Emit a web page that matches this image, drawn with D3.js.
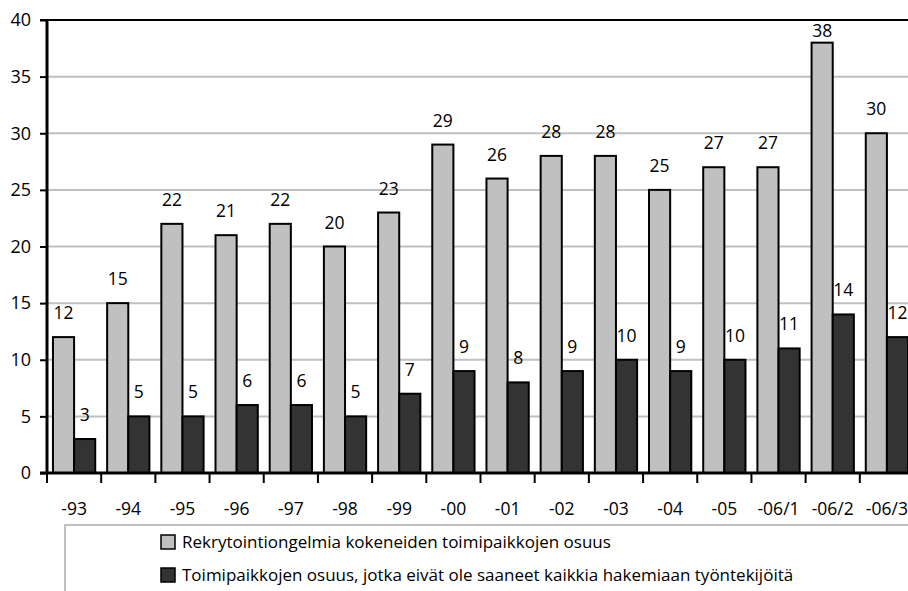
<!DOCTYPE html>
<html>
<head>
<meta charset="utf-8">
<script src="https://cdn.jsdelivr.net/npm/d3@7"></script>
<style>
  body { margin: 0; background: #fff; }
  svg { display: block; }
  text { font-family: "Open Sans", "DejaVu Sans", sans-serif; fill: #000; }
</style>
</head>
<body>
<svg id="chart" width="908" height="591"></svg>
<script>
// données
var years = ["-93", "-94", "-95", "-96", "-97", "-98", "-99", "-00", "-01", "-02", "-03", "-04", "-05", "-06/1", "-06/2", "-06/3"];
var rekry = [12, 15, 22, 21, 22, 20, 23, 29, 26, 28, 28, 25, 27, 27, 38, 30];
var eiSaaneet = [3, 5, 5, 6, 6, 5, 7, 9, 8, 9, 10, 9, 10, 11, 14, 12];
var yTicks = [0, 5, 10, 15, 20, 25, 30, 35, 40];
var seriesNames = ["Rekrytointiongelmia kokeneiden toimipaikkojen osuus",
                   "Toimipaikkojen osuus, jotka eivät ole saaneet kaikkia hakemiaan työntekijöitä"];
var colors = ["#c0c0c0", "#333333"];

var svg = d3.select("#chart");

// zone du graphique (dépasse un peu à droite, comme l'original)
var mLeft = 47, mRight = 914, mTop = 20, mBottom = 473;

var x = d3.scaleBand().domain(years).range([mLeft, mRight]).paddingInner(0.22).paddingOuter(0.11);
var y = d3.scaleLinear().domain([0, 40]).range([mBottom, mTop]);

// grille
svg.append("g").selectAll("line")
  .data(yTicks.filter(function(d) { return d > 0 && d < 40; }))
  .enter().append("line")
  .attr("x1", mLeft).attr("x2", 908)
  .attr("y1", function(d) { return y(d); })
  .attr("y2", function(d) { return y(d); })
  .style("stroke", "#c0c0c0").style("stroke-width", 2);

// barres
var bw = x.bandwidth() / 2;
var groups = svg.append("g").selectAll("g")
  .data(years).enter().append("g");

groups.append("rect")
  .attr("x", function(d) { return x(d); })
  .attr("y", function(d, i) { return y(rekry[i]); })
  .attr("width", bw)
  .attr("height", function(d, i) { return mBottom - y(rekry[i]); })
  .style("fill", colors[0]).style("stroke", "#000").style("stroke-width", 2);

groups.append("rect")
  .attr("x", function(d) { return x(d) + bw; })
  .attr("y", function(d, i) { return y(eiSaaneet[i]); })
  .attr("width", bw)
  .attr("height", function(d, i) { return mBottom - y(eiSaaneet[i]); })
  .style("fill", colors[1]).style("stroke", "#000").style("stroke-width", 2);

// étiquettes de valeurs (gardées dans la zone du graphique)
function labelY(v) { return Math.max(y(v) - 18, mTop + 17); }

groups.append("text")
  .attr("x", function(d) { return x(d) + bw / 2; })
  .attr("y", function(d, i) { return labelY(rekry[i]); })
  .attr("text-anchor", "middle")
  .style("font-size", "17.5px")
  .text(function(d, i) { return rekry[i]; });

groups.append("text")
  .attr("x", function(d) { return x(d) + bw * 1.5; })
  .attr("y", function(d, i) { return labelY(eiSaaneet[i]); })
  .attr("text-anchor", "middle")
  .style("font-size", "17.5px")
  .text(function(d, i) { return eiSaaneet[i]; });

// axe Y
var yAxis = svg.append("g")
  .attr("transform", "translate(" + mLeft + ",0)")
  .call(d3.axisLeft(y).tickValues(yTicks).tickSize(7).tickPadding(9));
yAxis.select(".domain").remove();
yAxis.selectAll(".tick line").style("stroke", "#000").style("stroke-width", 2);
yAxis.selectAll(".tick text").style("font-size", "18px").style("font-family", "Open Sans, sans-serif");

svg.append("line").attr("x1", mLeft).attr("x2", mLeft).attr("y1", mTop - 1).attr("y2", mBottom + 1)
  .style("stroke", "#000").style("stroke-width", 3);
// ligne du haut
svg.append("line").attr("x1", mLeft - 7).attr("x2", 908).attr("y1", mTop).attr("y2", mTop)
  .style("stroke", "#000").style("stroke-width", 2);

// axe X
var step = x.step();
var xg = svg.append("g");
xg.append("line").attr("x1", mLeft - 7).attr("x2", 908).attr("y1", mBottom).attr("y2", mBottom)
  .style("stroke", "#000").style("stroke-width", 3);
xg.selectAll("line.tk")
  .data(d3.range(years.length + 1)).enter().append("line")
  .attr("class", "tk")
  .attr("x1", function(i) { return mLeft + i * step; })
  .attr("x2", function(i) { return mLeft + i * step; })
  .attr("y1", mBottom).attr("y2", mBottom + 10)
  .style("stroke", "#000").style("stroke-width", 2);
xg.selectAll("text")
  .data(years).enter().append("text")
  .attr("x", function(d) { return x(d) + x.bandwidth() / 2; })
  .attr("y", 515)
  .attr("text-anchor", "middle")
  .style("font-size", "17.5px")
  .text(function(d) { return d; });

// légende
var legend = svg.append("g");
legend.append("rect")
  .attr("x", 65).attr("y", 525).attr("width", 860).attr("height", 100)
  .style("fill", "#fff").style("stroke", "#c0c0c0").style("stroke-width", 2);
seriesNames.forEach(function(name, i) {
  var ly = 542 + i * 33;
  legend.append("rect")
    .attr("x", 161).attr("y", ly - 7).attr("width", 14).attr("height", 14)
    .style("fill", colors[i]).style("stroke", "#000").style("stroke-width", 1.5);
  legend.append("text")
    .attr("x", 182).attr("y", ly + 6)
    .style("font-size", "17px")
    .text(name);
});
</script>
</body>
</html>
